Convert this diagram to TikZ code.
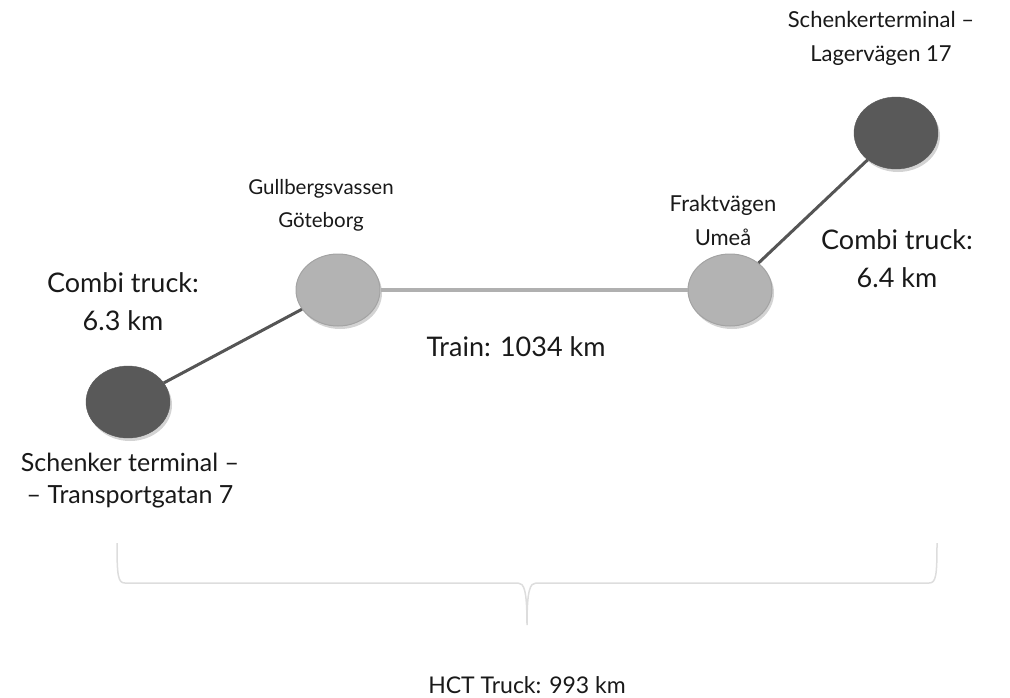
\documentclass[tikz,border=0pt]{standalone}
\usepackage{fontspec}
\setmainfont{Lato}
\usetikzlibrary{shapes.geometric,shadows}
\definecolor{darknode}{HTML}{595959}
\definecolor{lightnode}{HTML}{B3B3B3}
\definecolor{lightborder}{HTML}{A3A3A3}
\definecolor{darkline}{HTML}{555555}
\definecolor{lightline}{HTML}{B0B0B0}
\definecolor{bracecol}{HTML}{DDDDDD}
\tikzset{
  stop/.style={ellipse, minimum width=84pt, minimum height=72pt, inner sep=0pt,
     drop shadow={opacity=0.35, shadow xshift=2pt, shadow yshift=-3pt}},
  darkstop/.style={stop, fill=darknode, draw=darknode},
  lightstop/.style={stop, fill=lightnode, draw=lightborder, line width=1pt},
  biglabel/.style={align=center, font=\fontsize{27}{38}\selectfont, text=black!90},
  smalllabel/.style={align=center, font=\fontsize{22}{34}\selectfont, text=black!90},
  darkleg/.style={draw=darkline, line width=3pt},
  lightleg/.style={draw=lightline, line width=4pt},
}
\begin{document}
\begin{tikzpicture}[x=1pt,y=-1pt]
\useasboundingbox (0,0) rectangle (1010,697);
% nodes
\node[darkstop]  (sch1) at (128,402) {};
\node[lightstop] (gbg)  at (338,290) {};
\node[lightstop] (ume)  at (730,290) {};
\node[darkstop]  (sch2) at (896,133) {};
% connectors
\draw[darkleg] (sch1) -- (gbg);
\draw[lightleg] (gbg) -- (ume);
\draw[darkleg] (ume) -- (sch2);
% labels
\node[biglabel] (ct1) at (123,302) {Combi truck:\\6.3 km};
\node[biglabel] (ct2) at (897,259) {Combi truck:\\6.4 km};
\node[biglabel] (train) at (516,347) {Train: 1034 km};
\node[biglabel, font=\fontsize{23}{30}\selectfont, anchor=base] (hct) at (527,693) {HCT Truck: 993 km};
\node[smalllabel, font=\fontsize{20.5}{33}\selectfont] (lgbg) at (321,205) {Gullbergsvassen\\Göteborg};
\node[smalllabel] (lume) at (723,220) {Fraktvägen\\Umeå};
\node[smalllabel] (lsch2) at (881,38) {Schenkerterminal –\\Lagervägen 17};
\node[smalllabel, font=\fontsize{25}{32}\selectfont] (lsch1) at (130,481) {Schenker terminal –\\– Transportgatan 7};
% brace
\coordinate (bl) at (117,543);
\coordinate (br) at (937,543);
\coordinate (btip) at (527,625);
\draw[bracecol, line width=1.5pt]
  (bl) .. controls (117,576) and (118,583) .. (125,583) -- (518,583)
  .. controls (524,583) and (527,590) .. (btip)
  .. controls (527,590) and (530,583) .. (536,583) -- (929,583)
  .. controls (936,583) and (937,576) .. (br);
\end{tikzpicture}
\end{document}
